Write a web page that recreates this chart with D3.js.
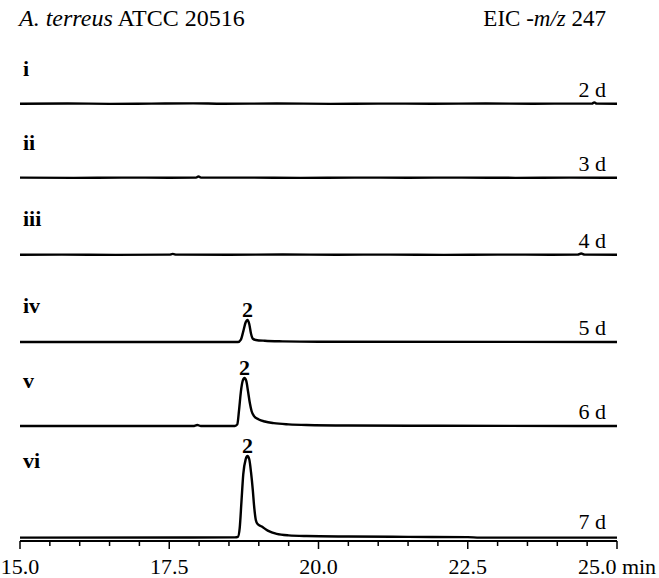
<!DOCTYPE html>
<html>
<head>
<meta charset="utf-8">
<script src="https://cdn.jsdelivr.net/npm/d3@7"></script>
<style>
  body { margin: 0; background: #fff; }
  text { font-family: "Liberation Serif", "Times New Roman", serif; fill: #000; }
</style>
</head>
<body>
<svg id="chart" width="659" height="578"></svg>
<script>
// EIC traces, time (min) vs relative intensity (vi peak = 100)
const panelLabels = ['i', 'ii', 'iii', 'iv', 'v', 'vi'];
const dayLabels = ['2 d', '3 d', '4 d', '5 d', '6 d', '7 d'];
const peakNames = [null, null, null, '2', '2', '2'];
const tickValues = [15, 17.5, 20, 22.5, 25];
const tickLabels = ['15.0', '17.5', '20.0', '22.5', '25.0 min'];

const trace2d = [[15, 0.3], [15.8, 0.6], [16.5, 0.2], [17.2, 0.5], [17.9, 0.8], [18.4, 0.3], [19.3, 0.6],
  [20.2, 0.2], [21.0, 0.5], [21.9, 0.3], [22.8, 0.6], [23.6, 0.3], [24.3, 0.5], [24.58, 0.4],
  [24.62, 2.0], [24.66, 0.4], [25, 0.3]];
const trace3d = [[15, 0.4], [15.9, 0.2], [16.7, 0.5], [17.5, 0.3], [17.95, 0.4], [17.99, 1.8], [18.03, 0.4],
  [18.8, 0.5], [19.7, 0.2], [20.6, 0.5], [21.5, 0.3], [22.4, 0.5], [23.3, 0.2], [24.2, 0.4], [25, 0.3]];
const trace4d = [[15, 0.3], [15.7, 0.5], [16.6, 0.2], [17.5, 0.4], [17.56, 1.4], [17.62, 0.4], [18.5, 0.3],
  [19.4, 0.6], [20.3, 0.3], [21.2, 0.5], [22.1, 0.2], [23.0, 0.5], [23.9, 0.3], [24.34, 0.5],
  [24.4, 1.8], [24.46, 0.5], [25, 0.3]];
const trace5d = [[15, 0], [18.65, 0], [18.7, 3], [18.74, 13], [18.78, 24], [18.81, 27], [18.84, 22],
  [18.87, 10], [18.9, 4], [18.95, 2.5], [19.1, 1.5], [19.4, 0.8], [20, 0.3], [25, 0]];
const trace6d = [[15, 0], [17.9, 0], [17.97, 1.2], [18.03, 0], [18.6, 0], [18.64, 2], [18.67, 20], [18.7, 42],
  [18.73, 55], [18.76, 58.5], [18.79, 55], [18.82, 42], [18.85, 28], [18.88, 18], [18.92, 12],
  [19.0, 8], [19.1, 5.5], [19.25, 3.5], [19.5, 2], [19.8, 1.2], [20.5, 0.6], [22, 0.3], [25, 0]];
const trace7d = [[15, 0.4], [17.8, 0.6], [18.6, 0.8], [18.65, 1.5], [18.68, 12], [18.71, 45], [18.74, 78],
  [18.78, 96], [18.81, 100], [18.84, 96], [18.87, 80], [18.9, 58], [18.92, 40], [18.95, 22],
  [18.98, 17], [19.05, 14], [19.15, 9], [19.3, 5], [19.5, 3.2], [19.8, 2.4], [20.5, 1.8],
  [21.5, 1.4], [22.5, 1.1], [22.7, 0.5], [25, 0.4]];
const traces = [trace2d, trace3d, trace4d, trace5d, trace6d, trace7d];

// layout
const baselines = [104, 178, 255, 342, 426, 538];
const labelY = [76, 150, 226, 313, 388, 468];
const dayY = [97, 171, 248, 335, 419, 529];
const svg = d3.select('#chart');
const x = d3.scaleLinear().domain([15, 25]).range([20, 617]);
const h = d3.scaleLinear().domain([0, 100]).range([0, 82]);

traces.forEach((tr, i) => {
  const base = baselines[i];
  const line = d3.line()
    .x(d => x(d[0]))
    .y(d => base - h(d[1]))
    .curve(d3.curveMonotoneX);
  svg.append('path')
    .datum(tr)
    .attr('d', line)
    .attr('fill', 'none')
    .attr('stroke', '#000')
    .attr('stroke-width', 2.4);

  svg.append('text')
    .attr('x', 23).attr('y', labelY[i])
    .attr('font-size', 22).attr('font-weight', 'bold')
    .text(panelLabels[i]);

  svg.append('text')
    .attr('x', 606).attr('y', dayY[i])
    .attr('text-anchor', 'end')
    .attr('font-size', 22)
    .text(dayLabels[i]);

  if (peakNames[i]) {
    const top = tr.reduce((a, b) => (b[1] > a[1] ? b : a));
    svg.append('text')
      .attr('x', x(top[0])).attr('y', base - h(top[1]) - 3)
      .attr('text-anchor', 'middle')
      .attr('font-size', 22).attr('font-weight', 'bold')
      .text(peakNames[i]);
  }
});

// title
const title = svg.append('text').attr('x', 19).attr('y', 26).attr('font-size', 24);
title.append('tspan').attr('font-style', 'italic').text('A. terreus');
title.append('tspan').text(' ATCC 20516');

const eic = svg.append('text').attr('x', 606).attr('y', 26).attr('font-size', 23).attr('text-anchor', 'end');
eic.append('tspan').text('EIC -');
eic.append('tspan').attr('font-style', 'italic').text('m/z');
eic.append('tspan').text(' 247');

// x axis
const minor = d3.range(15, 25.01, 0.5);
const ax = svg.append('g').attr('transform', 'translate(0,541)');
ax.append('line').attr('x1', x(15)).attr('x2', x(25)).attr('stroke', '#000').attr('stroke-width', 2);
ax.selectAll('line.tick').data(minor).join('line')
  .attr('class', 'tick')
  .attr('x1', d => x(d)).attr('x2', d => x(d))
  .attr('y1', 0).attr('y2', d => (tickValues.includes(d) ? 8 : 5))
  .attr('stroke', '#000').attr('stroke-width', 1.5);
ax.selectAll('text').data(tickValues).join('text')
  .attr('x', d => x(d)).attr('y', 33)
  .attr('text-anchor', 'middle')
  .attr('font-size', 22)
  .text((d, i) => tickLabels[i]);
</script>
</body>
</html>
